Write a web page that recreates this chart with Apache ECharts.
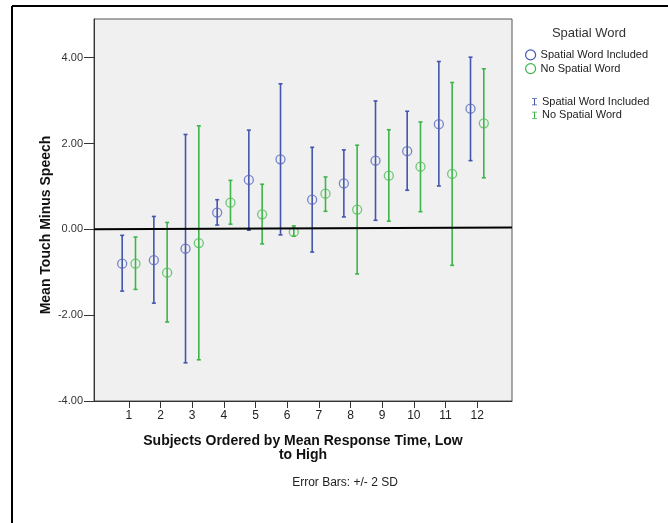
<!DOCTYPE html>
<html>
<head>
<meta charset="utf-8">
<script src="https://cdn.jsdelivr.net/npm/echarts@6.0.0/dist/echarts.min.js"></script>
<style>
  html, body { margin: 0; padding: 0; background: #fff; }
  #main { width: 668px; height: 523px; }
</style>
</head>
<body>
<div id="main"></div>
<script>
// subjects ordered by mean response time
const subjects = [1, 2, 3, 4, 5, 6, 7, 8, 9, 10, 11, 12]
const yTicks = [-4, -2, 0, 2, 4]

// spatial word included
const blueMean = [-0.80, -0.72, -0.45, 0.39, 1.15, 1.63, 0.69, 1.07, 1.60, 1.82, 2.45, 2.81]
const blueHigh = [-0.14, 0.30, 2.21, 0.69, 2.31, 3.39, 1.91, 1.85, 2.99, 2.75, 3.91, 4.01]
const blueLow = [-1.44, -1.72, -3.11, 0.10, -0.02, -0.13, -0.53, 0.29, 0.21, 0.91, 1.01, 1.60]

// no spatial word
const greenMean = [-0.80, -1.01, -0.32, 0.62, 0.35, -0.06, 0.83, 0.46, 1.25, 1.46, 1.29, 2.47]
const greenHigh = [-0.18, 0.16, 2.41, 1.14, 1.05, 0.08, 1.22, 1.96, 2.32, 2.50, 3.42, 3.74]
const greenLow = [-1.40, -2.16, -3.04, 0.12, -0.34, -0.16, 0.42, -1.04, 0.19, 0.41, -0.84, 1.20]

const BLUE = '#4355ad'
const GREEN = '#3db548'
const FONT = '"Liberation Sans", Arial, sans-serif'
const shift = 0.21

function points(mean, dx) {
    return subjects.map((s, i) => [s + dx, mean[i]])
}

function bars(low, high, dx) {
    return subjects.map((s, i) => [s + dx, low[i], high[i]])
}

function renderErrorBar(params, api) {
    const x = api.value(0)
    const top = api.coord([x, api.value(2)])
    const bot = api.coord([x, api.value(1)])
    const color = api.visual('color')
    const style = { stroke: color, lineWidth: 1.6 }
    const cap = 2
    return {
        type: 'group',
        children: [
            { type: 'line', shape: { x1: top[0], y1: top[1], x2: bot[0], y2: bot[1] }, style: style },
            { type: 'line', shape: { x1: top[0] - cap, y1: top[1], x2: top[0] + cap, y2: top[1] }, style: style },
            { type: 'line', shape: { x1: bot[0] - cap, y1: bot[1], x2: bot[0] + cap, y2: bot[1] }, style: style }
        ]
    }
}

const chart = echarts.init(document.getElementById('main'), null, { renderer: 'canvas' })

const iconBar = 'path://M0,0 L10,0 L10,1.5 L6,1.5 L6,12.5 L10,12.5 L10,14 L0,14 L0,12.5 L4,12.5 L4,1.5 L0,1.5 Z'

const option = {
    animation: false,
    textStyle: { fontFamily: FONT },
    grid: {
        left: 94,
        top: 19,
        right: 156,
        bottom: 122,
        outerBoundsMode: 'none',
        show: true,
        backgroundColor: '#f0f0f0',
        borderColor: '#555',
        borderWidth: 1
    },
    legend: [{
        orient: 'vertical',
        left: 525,
        top: 49.3,
        padding: 0,
        itemWidth: 10,
        itemHeight: 10,
        itemGap: 2.5,
        selectedMode: false,
        textStyle: { fontSize: 11, color: '#222', fontFamily: FONT },
        data: [
            { name: 'Spatial Word Included', icon: 'circle', itemStyle: { color: 'transparent', borderColor: BLUE, borderWidth: 1.2 } },
            { name: 'No Spatial Word', icon: 'circle', itemStyle: { color: 'transparent', borderColor: GREEN, borderWidth: 1.2 } }
        ]
    }, {
        orient: 'vertical',
        left: 532,
        top: 96.2,
        padding: 0,
        itemWidth: 5,
        itemHeight: 8,
        itemGap: 2.5,
        selectedMode: false,
        textStyle: { fontSize: 11, color: '#222', fontFamily: FONT },
        data: [
            { name: 'Spatial Word Included', icon: iconBar, itemStyle: { color: BLUE, borderWidth: 0 } },
            { name: 'No Spatial Word', icon: iconBar, itemStyle: { color: GREEN, borderWidth: 0 } }
        ]
    }],
    xAxis: {
        type: 'value',
        min: -0.1,
        max: 13.1,
        axisLine: { show: true, onZero: false, lineStyle: { color: '#333', width: 1 } },
        axisTick: { show: true, length: 7, customValues: subjects, lineStyle: { color: '#333' } },
        axisLabel: { customValues: subjects, fontSize: 12, color: '#222', margin: 9, fontFamily: FONT },
        splitLine: { show: false }
    },
    yAxis: {
        type: 'value',
        min: -4,
        max: 4.9,
        axisLine: { show: true, onZero: false, lineStyle: { color: '#333', width: 1 } },
        axisTick: { show: true, length: 10, customValues: yTicks, lineStyle: { color: '#333' } },
        axisLabel: {
            customValues: yTicks,
            fontSize: 11,
            color: '#333',
            margin: 11,
            fontFamily: FONT,
            formatter: v => v.toFixed(2)
        },
        splitLine: { show: false }
    },
    series: [{
        name: 'Spatial Word Included',
        type: 'custom',
        color: BLUE,
        renderItem: renderErrorBar,
        encode: { x: 0, y: [1, 2] },
        data: bars(blueLow, blueHigh, -shift),
        z: 2
    }, {
        name: 'No Spatial Word',
        type: 'custom',
        color: GREEN,
        renderItem: renderErrorBar,
        encode: { x: 0, y: [1, 2] },
        data: bars(greenLow, greenHigh, shift),
        z: 2
    }, {
        name: 'Spatial Word Included',
        type: 'scatter',
        symbol: 'circle',
        symbolSize: 9,
        color: BLUE,
        itemStyle: { color: 'transparent', borderColor: '#5567bd', borderWidth: 1.3 },
        data: points(blueMean, -shift),
        z: 3,
        markLine: {
            silent: true,
            symbol: 'none',
            label: { show: false },
            lineStyle: { color: '#000', width: 2, type: 'solid' },
            data: [[{ coord: [-0.1, 0] }, { coord: [13.1, 0.04] }]],
            z: 5
        }
    }, {
        name: 'No Spatial Word',
        type: 'scatter',
        symbol: 'circle',
        symbolSize: 9,
        color: GREEN,
        itemStyle: { color: 'transparent', borderColor: '#4cbb55', borderWidth: 1.3 },
        data: points(greenMean, shift),
        z: 3
    }],
    graphic: [
        { type: 'line', shape: { x1: 12, y1: 6, x2: 668, y2: 6 }, style: { stroke: '#000', lineWidth: 2 } },
        { type: 'line', shape: { x1: 12, y1: 6, x2: 12, y2: 523 }, style: { stroke: '#000', lineWidth: 2 } },
        {
            type: 'text', x: 589, y: 33,
            style: { text: 'Spatial Word', font: '13px ' + FONT, fill: '#333', textAlign: 'center', textVerticalAlign: 'middle' }
        },
        {
            type: 'text', x: 46, y: 225, rotation: Math.PI / 2,
            style: { text: 'Mean Touch Minus Speech', font: 'bold 14px ' + FONT, fill: '#111', textAlign: 'center', textVerticalAlign: 'middle' }
        },
        {
            type: 'text', x: 303, y: 441,
            style: { text: 'Subjects Ordered by Mean Response Time, Low', font: 'bold 14px ' + FONT, fill: '#111', textAlign: 'center', textVerticalAlign: 'middle' }
        },
        {
            type: 'text', x: 303, y: 455.5,
            style: { text: 'to High', font: 'bold 14px ' + FONT, fill: '#111', textAlign: 'center', textVerticalAlign: 'middle' }
        },
        {
            type: 'text', x: 345, y: 483,
            style: { text: 'Error Bars: +/- 2 SD', font: '12px ' + FONT, fill: '#222', textAlign: 'center', textVerticalAlign: 'middle' }
        }
    ]
}

chart.setOption(option)
</script>
</body>
</html>
